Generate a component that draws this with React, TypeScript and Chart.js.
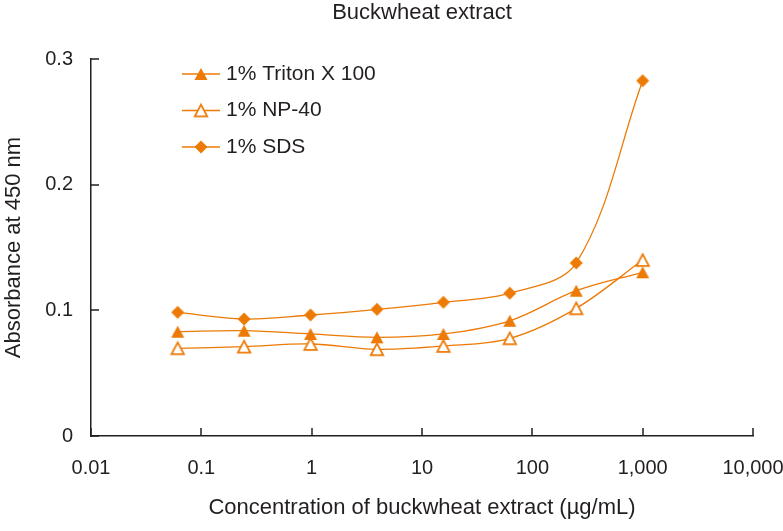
import React, { useEffect, useRef } from 'react';
import { Chart, registerables } from 'chart.js';

Chart.register(...registerables);

// Data (4-fold dilutions from 1000 µg/mL)
const concentrations = [0.06103515625, 0.244140625, 0.9765625, 3.90625, 15.625, 62.5, 250, 1000];
const tritonX100 = [0.083, 0.0838, 0.0812, 0.0785, 0.0812, 0.0917, 0.1156, 0.1303];
const np40 = [0.0698, 0.0711, 0.0732, 0.069, 0.0716, 0.0777, 0.1016, 0.14];
const sds = [0.0984, 0.0931, 0.0963, 0.1008, 0.1064, 0.1136, 0.1377, 0.2827];

const seriesNames = ['1% Triton X 100', '1% NP-40', '1% SDS'];
const xTickValues = [0.01, 0.1, 1, 10, 100, 1000, 10000];
const xTickLabels = ['0.01', '0.1', '1', '10', '100', '1,000', '10,000'];
const yTickValues = [0, 0.1, 0.2, 0.3];
const yTickLabels = ['0', '0.1', '0.2', '0.3'];

const chartTitle = 'Buckwheat extract';
const xTitle = 'Concentration of buckwheat extract (µg/mL)';
const yTitle = 'Absorbance at 450 nm';

const ORANGE = '#EC7A05';
const TEXT = '#231F20';
const SANS = '"Liberation Sans", Arial, sans-serif';

function makeCanvas(w: number, h: number, draw: (ctx: CanvasRenderingContext2D) => void) {
  const c = document.createElement('canvas');
  c.width = w;
  c.height = h;
  const ctx = c.getContext('2d')!;
  draw(ctx);
  return c;
}

export default function App() {
  const ref = useRef<HTMLCanvasElement>(null);

  useEffect(() => {
    const filledTri = makeCanvas(18, 18, (ctx) => {
      ctx.beginPath();
      ctx.moveTo(9, 3);
      ctx.lineTo(15.5, 15);
      ctx.lineTo(2.5, 15);
      ctx.closePath();
      ctx.fillStyle = ORANGE;
      ctx.fill();
    });
    const openTri = makeCanvas(18, 18, (ctx) => {
      ctx.beginPath();
      ctx.moveTo(9, 3.2);
      ctx.lineTo(15.2, 14.8);
      ctx.lineTo(2.8, 14.8);
      ctx.closePath();
      ctx.fillStyle = '#ffffff';
      ctx.fill();
      ctx.lineWidth = 1.8;
      ctx.strokeStyle = ORANGE;
      ctx.stroke();
    });
    const diamond = makeCanvas(16, 16, (ctx) => {
      ctx.beginPath();
      ctx.moveTo(8, 1.5);
      ctx.lineTo(14.5, 8);
      ctx.lineTo(8, 14.5);
      ctx.lineTo(1.5, 8);
      ctx.closePath();
      ctx.fillStyle = ORANGE;
      ctx.fill();
    });
    const markers = [filledTri, openTri, diamond];

    const inwardTicks = {
      id: 'inwardTicks',
      afterDraw(chart: any) {
        const { ctx, scales } = chart;
        const xs = scales.x;
        const ys = scales.y;
        ctx.save();
        ctx.strokeStyle = TEXT;
        ctx.lineWidth = 1.5;
        ctx.beginPath();
        xTickValues.forEach((v) => {
          const px = Math.round(xs.getPixelForValue(v));
          ctx.moveTo(px, xs.top);
          ctx.lineTo(px, xs.top - 8);
        });
        yTickValues.forEach((v) => {
          const py = Math.round(ys.getPixelForValue(v));
          ctx.moveTo(ys.right, py);
          ctx.lineTo(ys.right + 8, py);
        });
        ctx.stroke();
        ctx.restore();
      },
    };

    const customLegend = {
      id: 'customLegend',
      afterDraw(chart: any) {
        const { ctx } = chart;
        const rowsY = [74, 110.5, 147];
        ctx.save();
        seriesNames.forEach((name, i) => {
          const y = rowsY[i];
          ctx.strokeStyle = ORANGE;
          ctx.lineWidth = 1.4;
          ctx.beginPath();
          ctx.moveTo(182, y);
          ctx.lineTo(220, y);
          ctx.stroke();
          const m = markers[i];
          ctx.drawImage(m, 201 - m.width / 2, y - m.height / 2);
          ctx.fillStyle = TEXT;
          ctx.font = `21px ${SANS}`;
          ctx.textBaseline = 'middle';
          ctx.textAlign = 'left';
          ctx.fillText(name, 226, y);
        });
        ctx.restore();
      },
    };

    const makeData = (vals: number[]) => concentrations.map((x, i) => ({ x, y: vals[i] }));
    const seriesValues = [tritonX100, np40, sds];

    const chart = new Chart(ref.current!, {
      type: 'line',
      data: {
        datasets: seriesValues.map((vals, i) => ({
          label: seriesNames[i],
          data: makeData(vals),
          borderColor: ORANGE,
          backgroundColor: ORANGE,
          borderWidth: 1.3,
          tension: 0.35,
          pointStyle: markers[i] as any,
          pointRadius: 7,
          fill: false,
        })),
      },
      options: {
        responsive: false,
        animation: false,
        devicePixelRatio: 1,
        layout: { padding: { left: 0, right: 30, top: 0, bottom: 0 } },
        plugins: {
          legend: { display: false },
          tooltip: { enabled: false },
          title: {
            display: true,
            text: chartTitle,
            fullSize: false,
            color: TEXT,
            font: { family: SANS, size: 22, weight: 'normal' as any },
            padding: { top: 0, bottom: 32.6 },
          },
        },
        scales: {
          x: {
            type: 'logarithmic',
            min: 0.01,
            max: 10000,
            afterBuildTicks: (s: any) => {
              s.ticks = xTickValues.map((v) => ({ value: v }));
            },
            afterFit: (s: any) => {
              s.height = 95;
              s.paddingLeft = 0;
              s.paddingRight = 0;
            },
            ticks: {
              autoSkip: false,
              maxRotation: 0,
              minRotation: 0,
              padding: 20,
              color: TEXT,
              font: { family: SANS, size: 20 },
              callback: (_v: any, i: number) => xTickLabels[i],
            },
            grid: { display: false, drawOnChartArea: false, drawTicks: false },
            border: { display: true, color: TEXT, width: 1.5 },
            title: {
              display: true,
              text: xTitle,
              color: TEXT,
              font: { family: SANS, size: 22 },
              padding: { top: 0, bottom: 10 },
            },
          },
          y: {
            type: 'linear',
            min: 0,
            max: 0.3,
            afterBuildTicks: (s: any) => {
              s.ticks = yTickValues.map((v) => ({ value: v }));
            },
            afterFit: (s: any) => {
              s.width = 91;
              s.paddingTop = 0;
              s.paddingBottom = 0;
            },
            ticks: {
              autoSkip: false,
              padding: 18,
              color: TEXT,
              font: { family: SANS, size: 20 },
              callback: (_v: any, i: number) => yTickLabels[i],
            },
            grid: { display: false, drawOnChartArea: false, drawTicks: false },
            border: { display: true, color: TEXT, width: 1.5 },
            title: {
              display: true,
              text: yTitle,
              color: TEXT,
              font: { family: SANS, size: 22 },
              padding: { top: 1, bottom: 0 },
            },
          },
        },
      },
      plugins: [inwardTicks, customLegend],
    });
    return () => chart.destroy();
  }, []);

  return (
    <div style={{ position: 'fixed', left: 0, top: 0, width: 783, height: 531, background: '#ffffff' }}>
      <canvas ref={ref} width={783} height={531} style={{ display: 'block', width: 783, height: 531 }} />
    </div>
  );
}
